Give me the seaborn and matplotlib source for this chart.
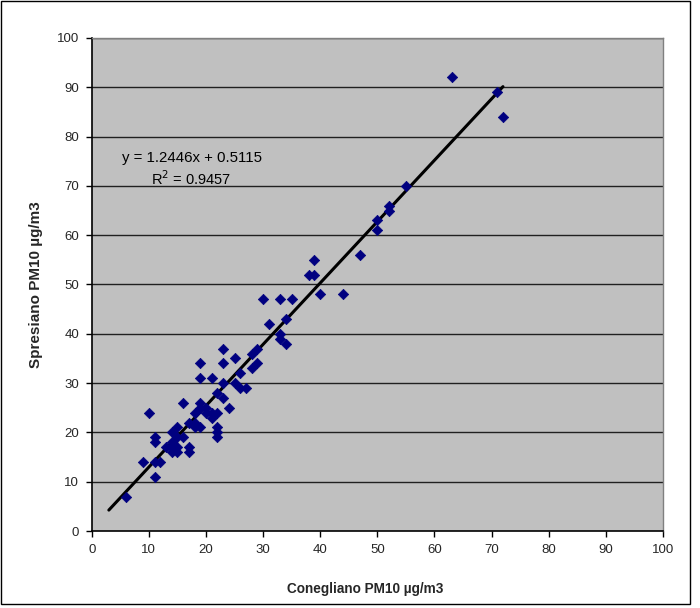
import numpy as np
import pandas as pd
import matplotlib
matplotlib.use("Agg")
import matplotlib.pyplot as plt
import seaborn as sns
from matplotlib.patches import Rectangle

# ── Data ─────────────────────────────────────────────────────────────────────
conegliano = [6, 9, 10, 11, 11, 11, 11, 12, 13, 14, 14, 14, 14, 15, 15, 15, 15,
              16, 16, 17, 17, 17, 18, 18, 18, 19, 19, 19, 19, 19, 20, 20,
              21, 21, 21, 22, 22, 22, 22, 22, 23, 23, 23, 23, 24, 25, 25,
              26, 26, 27, 28, 28, 29, 29, 30, 31, 33, 33, 33, 34, 34, 35,
              38, 39, 39, 40, 44, 47, 50, 50, 52, 52, 55, 63, 71, 72]
spresiano = [7, 14, 24, 11, 14, 18, 19, 14, 17, 16, 17, 18, 20, 16, 17, 19, 21,
             19, 26, 16, 17, 22, 21, 22, 24, 21, 25, 26, 31, 34, 24, 25,
             23, 24, 31, 19, 20, 21, 24, 28, 27, 30, 34, 37, 25, 30, 35,
             29, 32, 29, 33, 36, 34, 37, 47, 42, 39, 40, 47, 38, 43, 47,
             52, 52, 55, 48, 48, 56, 61, 63, 65, 66, 70, 92, 89, 84]
slope, intercept = 1.2446, 0.5115
r2 = 0.9457
fit_x = [3, 72]

df = pd.DataFrame({"x": conegliano, "y": spresiano})
fit = pd.DataFrame({"x": fit_x})
fit["y"] = slope * fit["x"] + intercept

# ── Layout ────────────────────────────────────────────────────────────────────
sns.set_theme(style="white")
plt.rcParams["font.family"] = ["Liberation Sans", "DejaVu Sans"]

fig = plt.figure(figsize=(7, 6.08), dpi=100)
ax = fig.add_axes([0.131, 0.1266, 0.816, 0.811])
ax.set_facecolor("#C0C0C0")

ax.set_xlim(0, 100)
ax.set_ylim(0, 100)
ax.set_xticks(range(0, 101, 10))
ax.set_yticks(range(0, 101, 10))
for v in range(10, 101, 10):
    ax.axhline(v, color="#202020", linewidth=1.0, zorder=1)

sns.lineplot(data=fit, x="x", y="y", ax=ax, color="black", linewidth=2.2,
             zorder=3)
sns.scatterplot(data=df, x="x", y="y", ax=ax, marker="D", color="#000080",
                edgecolor="#000080", s=28, linewidth=0.5, zorder=4)

ax.text(17.5, 75.6, f"y = {slope}x + {intercept}", ha="center", va="center",
        fontsize=10.8, color="black")
ax.text(17.4, 71.5, f"R$^2$ = {r2}", ha="center", va="center",
        fontsize=10.5, color="black")

ax.set_xlabel("Conegliano PM10 µg/m3", fontsize=9.8, fontweight="bold")
ax.set_ylabel("Spresiano PM10 µg/m3", fontsize=11, fontweight="bold")
ax.xaxis.set_label_coords(0.478, -0.103)
ax.yaxis.set_label_coords(-0.085, 0.5)
ax.tick_params(axis="both", labelsize=9.5, direction="out", length=4,
               width=1, color="black", bottom=True, left=True, pad=5)

for side in ["left", "bottom"]:
    ax.spines[side].set_color("black")
    ax.spines[side].set_linewidth(1.2)
for side in ["top", "right"]:
    ax.spines[side].set_color("#808080")
    ax.spines[side].set_linewidth(1.0)

# outer chart frame
fig.patches.append(Rectangle((0.001, 0.006), 0.985, 0.993,
                             transform=fig.transFigure, fill=False,
                             edgecolor="black", linewidth=1.0))

fig.savefig("out.png", dpi=100)
